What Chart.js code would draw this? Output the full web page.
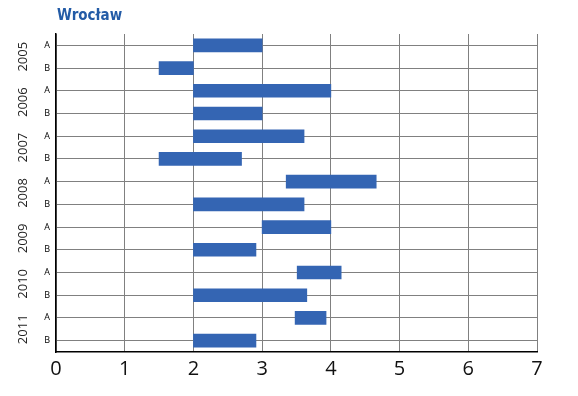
<!DOCTYPE html>
<html>
<head>
<meta charset="utf-8">
<script src="https://cdn.jsdelivr.net/npm/chart.js@4/dist/chart.umd.min.js"></script>
<style>
    html, body { margin: 0; padding: 0; background: #fff; }
    #caja { width: 578px; height: 396px; }
</style>
</head>
<body>
<div id="caja"><canvas id="g_wroclaw" width="578" height="396"></canvas></div>
<script>
let titulo = "Wrocław";
let anios = ["2005", "2006", "2007", "2008", "2009", "2010", "2011"];
let filas = ["A", "B", "A", "B", "A", "B", "A", "B", "A", "B", "A", "B", "A", "B"];
let inicios = [2, 1.5, 2, 2, 2, 1.5, 3.35, 2, 3, 2, 3.51, 2, 3.48, 2];
let finales = [3, 2, 4, 3, 3.61, 2.7, 4.66, 3.61, 4, 2.91, 4.15, 3.65, 3.93, 2.91];
let ticks_x = [0, 1, 2, 3, 4, 5, 6, 7];

let azul = "#3465b3";

// titulo y años rotados a la izquierda
const extras = {
    id: "extras",
    afterDraw(chart){
        let ctx = chart.ctx;
        let area = chart.chartArea;
        let y = chart.scales.y;

        ctx.save();
        ctx.fillStyle = "#235ba6";
        ctx.font = "bold 15px 'Liberation Sans Narrow', 'DejaVu Sans Condensed', sans-serif";
        ctx.textAlign = "left";
        ctx.textBaseline = "alphabetic";
        ctx.fillText(titulo, area.left + 1, 20);
        ctx.restore();

        ctx.save();
        ctx.fillStyle = "#222";
        ctx.font = "13px 'Open Sans', sans-serif";
        ctx.textAlign = "center";
        ctx.textBaseline = "middle";
        for(let i = 0; i < anios.length; i++){
            let py = (y.getPixelForValue(2 * i) + y.getPixelForValue(2 * i + 1)) / 2;
            ctx.save();
            ctx.translate(23, py);
            ctx.rotate(-Math.PI / 2);
            ctx.fillText(anios[i], 0, 0);
            ctx.restore();
        }
        ctx.restore();
    }
};

let ctx = document.getElementById("g_wroclaw").getContext("2d");
let g = new Chart(ctx, {
    type: "bar",
    data: {
        labels: filas,
        datasets: [
            {
                data: inicios.map((v, i) => [v, finales[i]]),
                backgroundColor: azul,
                borderWidth: 0,
                borderSkipped: false,
                barThickness: 13
            }
        ]
    },
    options: {
        indexAxis: "y",
        responsive: false,
        animation: false,
        layout: {
            padding: { top: 34, right: 41, left: 0, bottom: 0 }
        },
        plugins: {
            legend: { display: false },
            tooltip: { enabled: false }
        },
        scales: {
            x: {
                type: "linear",
                min: 0,
                max: 7,
                afterBuildTicks: function(s){
                    s.ticks = ticks_x.map(v => ({ value: v }));
                },
                afterFit: function(s){
                    s.height = 44;
                },
                grid: {
                    color: "#808080",
                    lineWidth: 1,
                    drawTicks: false
                },
                border: { color: "#000", width: 1.5 },
                ticks: {
                    color: "#111",
                    padding: 5,
                    font: { size: 20, family: "'Open Sans', sans-serif" }
                }
            },
            y: {
                type: "category",
                offset: true,
                afterFit: function(s){
                    s.width = 56;
                },
                grid: {
                    offset: false,
                    color: "#808080",
                    lineWidth: 1,
                    drawTicks: false
                },
                border: { color: "#000", width: 1.5 },
                ticks: {
                    color: "#000",
                    padding: 6,
                    font: { size: 9, family: "'Open Sans', sans-serif" }
                }
            }
        }
    },
    plugins: [extras]
});
</script>
</body>
</html>
